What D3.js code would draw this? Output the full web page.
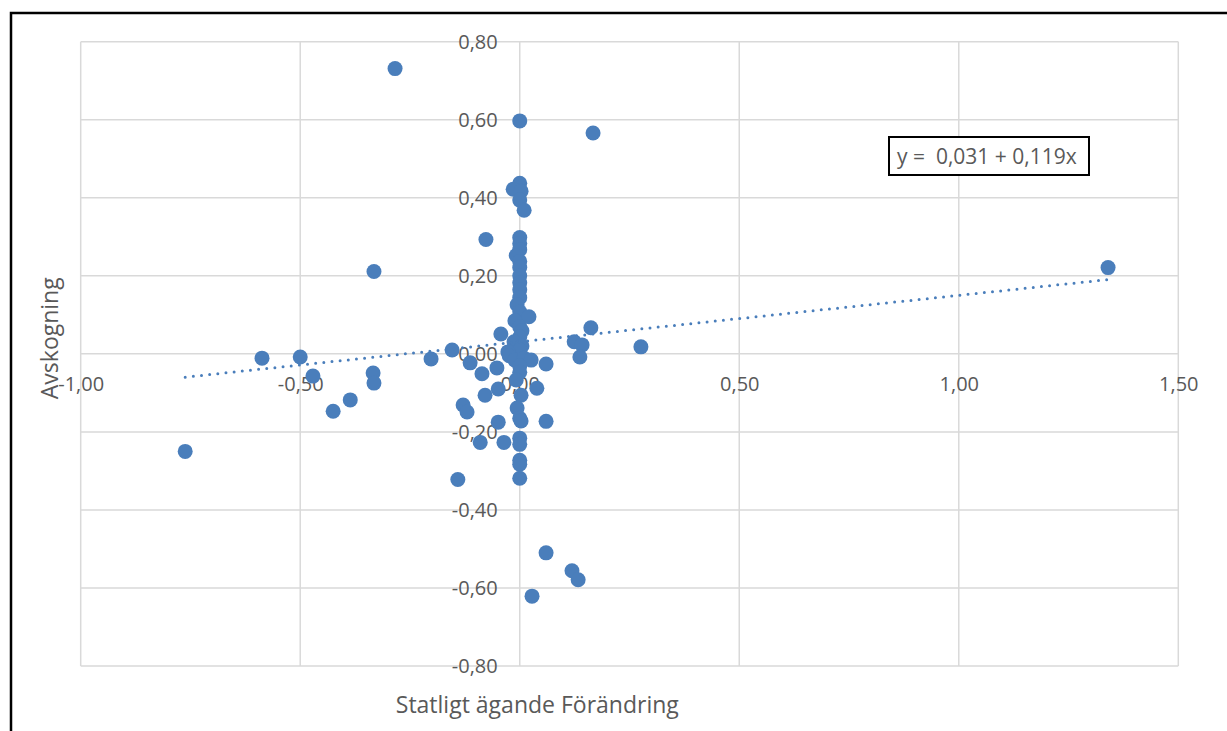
<!DOCTYPE html>
<html lang="sv">
<head>
    <meta charset="UTF-8">
    <title>Avskogning vs Statligt ägande Förändring</title>
    <script src="https://d3js.org/d3.v7.min.js"></script>
    <style>
        body { margin: 0; background: #fff; font-family: "Open Sans", sans-serif; }
        text { fill: #595959; }
    </style>
</head>
<body>
    <script>
        // Data (x = Statligt ägande Förändring, y = Avskogning)
        const xValues = [
            -0.284, 0.000, 0.167, 1.340, -0.332, -0.077,
            0.000, -0.015, 0.003, 0.000, 0.010, 0.000, 0.000, 0.000, -0.008, 0.000,
            0.000, 0.000, 0.000, 0.000, 0.000, -0.006, 0.000, 0.021, -0.011, 0.000,
            0.005, -0.043, 0.000, -0.013, 0.005, 0.000, -0.027,
            0.162, 0.124, 0.142, 0.276, 0.137,
            -0.154, -0.202, -0.587, -0.500, -0.471, -0.334, -0.332, -0.386, -0.425, -0.762,
            -0.113, -0.086, -0.052, -0.024, -0.011, 0.010, 0.026, 0.000, 0.000, -0.008,
            -0.049, -0.079, 0.003, 0.039, 0.060, -0.129, -0.120, -0.006, 0.000, 0.003,
            -0.049, 0.060, -0.090, -0.036, 0.000, 0.000, 0.000, 0.000, 0.000, -0.141,
            0.060, 0.119, 0.133, 0.028
        ];
        const yValues = [
            0.731, 0.597, 0.566, 0.221, 0.211, 0.293,
            0.437, 0.422, 0.417, 0.394, 0.368, 0.298, 0.283, 0.267, 0.252, 0.237,
            0.221, 0.200, 0.182, 0.164, 0.144, 0.126, 0.108, 0.095, 0.085, 0.069,
            0.059, 0.051, 0.043, 0.031, 0.020, 0.010, 0.005,
            0.067, 0.031, 0.023, 0.018, -0.008,
            0.010, -0.013, -0.011, -0.008, -0.057, -0.049, -0.075, -0.118, -0.147, -0.250,
            -0.023, -0.051, -0.036, -0.005, -0.016, -0.011, -0.016, -0.031, -0.047, -0.067,
            -0.090, -0.106, -0.106, -0.088, -0.026, -0.131, -0.149, -0.139, -0.165, -0.172,
            -0.175, -0.173, -0.227, -0.227, -0.216, -0.232, -0.273, -0.283, -0.319, -0.322,
            -0.510, -0.556, -0.579, -0.621
        ];
        const trendIntercept = 0.031;
        const trendSlope = 0.119;
        const xTicks = [-1, -0.5, 0, 0.5, 1, 1.5];
        const yTicks = [-0.8, -0.6, -0.4, -0.2, 0, 0.2, 0.4, 0.6, 0.8];
        const xTitle = "Statligt ägande Förändring";
        const yTitle = "Avskogning";
        const equationLabel = "y =  0,031 + 0,119x";

        const W = 1227, H = 731;
        const plot = { left: 80.7, right: 1178.3, top: 41.7, bottom: 666 };
        const grey = "#d9d9d9";
        const blue = "#4a7ebb";

        const svg = d3.select("body").append("svg")
            .attr("width", W)
            .attr("height", H);

        const x = d3.scaleLinear().domain([-1, 1.5]).range([plot.left, plot.right]);
        const y = d3.scaleLinear().domain([-0.8, 0.8]).range([plot.bottom, plot.top]);

        // Swedish number format: comma decimal, hyphen minus
        const sv = d3.formatLocale({ decimal: ",", thousands: " ", grouping: [3], currency: ["", " kr"], minus: "-" });
        const fmt = sv.format(".2f");

        // Outer frame (only left and top edges are visible in the crop)
        svg.append("path")
            .attr("d", `M11,${H} V13 H${W}`)
            .attr("fill", "none")
            .attr("stroke", "#000")
            .attr("stroke-width", 2.5);

        // Gridlines
        svg.append("g").selectAll("line")
            .data(xTicks)
            .join("line")
            .attr("x1", d => x(d)).attr("x2", d => x(d))
            .attr("y1", plot.top).attr("y2", plot.bottom)
            .attr("stroke", grey).attr("stroke-width", 1.5);

        svg.append("g").selectAll("line")
            .data(yTicks)
            .join("line")
            .attr("x1", plot.left).attr("x2", plot.right)
            .attr("y1", d => y(d)).attr("y2", d => y(d))
            .attr("stroke", grey).attr("stroke-width", 1.5);

        // Axes crossing at zero
        const yAxis = svg.append("g")
            .attr("transform", `translate(${x(0)},0)`)
            .call(d3.axisLeft(y).tickValues(yTicks).tickFormat(fmt).tickSize(0).tickPadding(22));
        yAxis.select(".domain").remove();

        const xAxis = svg.append("g")
            .attr("transform", `translate(0,${y(0)})`)
            .call(d3.axisBottom(x).tickValues(xTicks).tickFormat(fmt).tickSize(0).tickPadding(23));
        xAxis.select(".domain").remove();

        svg.selectAll(".tick text")
            .style("font-family", '"Open Sans", sans-serif')
            .style("font-size", "20px")
            .attr("fill", "#595959");

        // Axis titles
        svg.append("text")
            .attr("x", x(0.04))
            .attr("y", 713)
            .attr("text-anchor", "middle")
            .style("font-size", "23px")
            .text(xTitle);

        svg.append("text")
            .attr("transform", `translate(58,${y(0.04)}) rotate(-90)`)
            .attr("text-anchor", "middle")
            .style("font-size", "23px")
            .text(yTitle);

        // Points
        const points = xValues.map((v, i) => ({ x: v, y: yValues[i] }));
        svg.append("g").selectAll("circle")
            .data(points)
            .join("circle")
            .attr("cx", d => x(d.x))
            .attr("cy", d => y(d.y))
            .attr("r", 7.5)
            .attr("fill", blue);

        // Linear trendline across the data range, dotted
        const xExt = d3.extent(xValues);
        const line = d3.line().x(d => x(d)).y(d => y(trendIntercept + trendSlope * d));
        svg.append("path")
            .datum(xExt)
            .attr("d", line)
            .attr("fill", "none")
            .attr("stroke", blue)
            .attr("stroke-width", 3)
            .attr("stroke-linecap", "round")
            .attr("stroke-dasharray", "0 8.2");

        // Equation label box
        const eq = svg.append("g").attr("transform", "translate(889,137)");
        eq.append("rect")
            .attr("width", 200)
            .attr("height", 38)
            .attr("fill", "#fff")
            .attr("stroke", "#000")
            .attr("stroke-width", 2);
        eq.append("text")
            .attr("x", 8)
            .attr("y", 27)
            .attr("xml:space", "preserve")
            .style("white-space", "pre")
            .style("font-size", "21px")
            .text(equationLabel);
    </script>
</body>
</html>
